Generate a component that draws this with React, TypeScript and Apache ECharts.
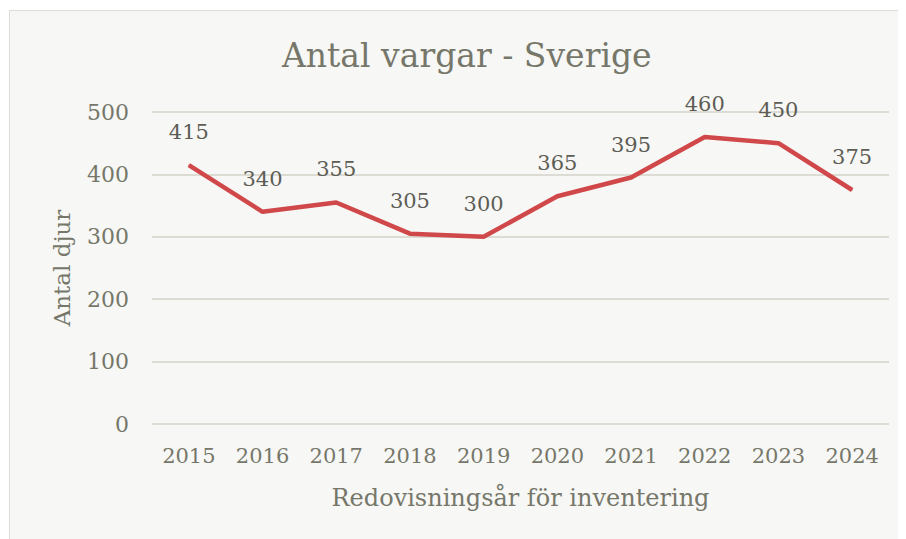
import React, { useEffect, useRef } from "react";
import * as echarts from "echarts";

const years = ["2015", "2016", "2017", "2018", "2019", "2020", "2021", "2022", "2023", "2024"];
const wolves = [415, 340, 355, 305, 300, 365, 395, 460, 450, 375];
const titleText = "Antal vargar - Sverige";
const yName = "Antal djur";
const xName = "Redovisningsår för inventering";

const FONT = "'DejaVu Serif', serif";
const AXIS_COLOR = "#76776a";
const LINE_COLOR = "#d0484a";

export default function App() {
  const ref = useRef<HTMLDivElement>(null);
  useEffect(() => {
    if (!ref.current) return;
    const chart = echarts.init(ref.current, undefined, { renderer: "svg" });
    chart.setOption({
      animation: false,
      backgroundColor: "#f7f7f5",
      title: {
        text: titleText,
        left: 267,
        top: 23,
        textStyle: { fontFamily: FONT, fontSize: 33, fontWeight: "normal", color: AXIS_COLOR },
      },
      grid: { left: 142, right: 17, top: 101, bottom: 115, containLabel: false },
      xAxis: {
        type: "category",
        data: years,
        boundaryGap: true,
        name: xName,
        nameLocation: "middle",
        nameGap: 62,
        nameTextStyle: { fontFamily: FONT, fontSize: 24, color: AXIS_COLOR },
        axisLine: { show: false },
        axisTick: { show: false },
        axisLabel: { fontFamily: FONT, fontSize: 21, color: AXIS_COLOR, margin: 21 },
      },
      yAxis: {
        type: "value",
        min: 0,
        max: 500,
        interval: 100,
        name: yName,
        nameLocation: "middle",
        nameGap: 79,
        nameTextStyle: { fontFamily: FONT, fontSize: 23, color: AXIS_COLOR },
        axisLine: { show: false },
        axisTick: { show: false },
        axisLabel: { fontFamily: FONT, fontSize: 22, color: AXIS_COLOR, margin: 23 },
        splitLine: { lineStyle: { color: "#dcdcd4", width: 2 } },
      },
      series: [
        {
          type: "line",
          data: wolves,
          symbol: "circle",
          symbolSize: 1,
          showSymbol: true,
          itemStyle: { color: LINE_COLOR },
          lineStyle: { color: LINE_COLOR, width: 4.5 },
          label: {
            show: true,
            position: "top",
            distance: 22,
            fontFamily: FONT,
            fontSize: 21,
            color: "#5d5d55",
          },
        },
      ],
    });
    return () => chart.dispose();
  }, []);
  return (
    <div
      ref={ref}
      style={{
        width: 897,
        height: 529,
        marginLeft: 1,
        marginTop: 2,
        borderLeft: "1px solid #dcdcd8",
        borderTop: "1px solid #dcdcd8",
        boxSizing: "border-box",
      }}
    />
  );
}
